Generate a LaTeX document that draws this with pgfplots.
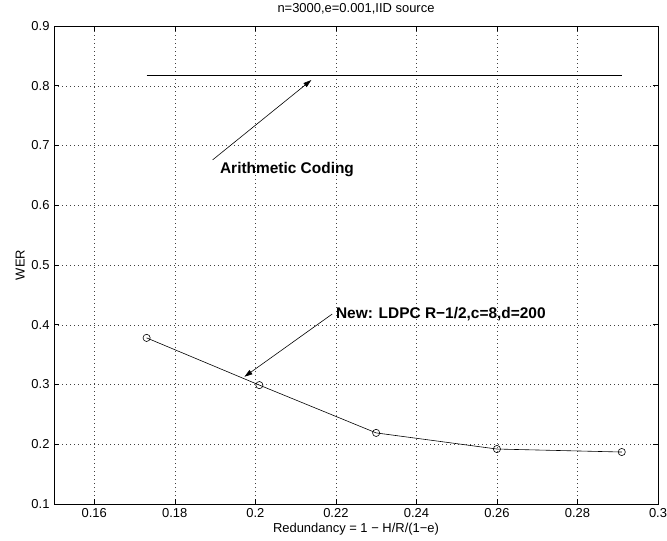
\documentclass[border=0pt]{standalone}
\usepackage{fontspec}
\setmainfont{Liberation Sans}
\usepackage{pgfplots}
\pgfplotsset{compat=1.18}
\usetikzlibrary{arrows.meta}
\begin{document}
\fontsize{13}{15}\selectfont
\begin{tikzpicture}
\begin{axis}[
  at={(0,0)}, anchor=south west,
  scale only axis, width=604bp, height=478bp,
  xmin=0.15, xmax=0.3, ymin=0.1, ymax=0.9,
  xtick={0.16,0.18,0.2,0.22,0.24,0.26,0.28,0.3},
  ytick={0.1,0.2,0.3,0.4,0.5,0.6,0.7,0.8,0.9},
  /pgf/number format/assume math mode=true,
  /pgf/number format/fixed, /pgf/number format/precision=2,
  tick label style={font=\fontsize{13}{15}\selectfont},
  label style={font=\fontsize{13}{15}\selectfont},
  grid=major,
  major grid style={black!75, line width=0.5pt, dash pattern=on 0.7bp off 3.3bp},
  tick align=inside, tick pos=both, major tick length=5bp,
  tick style={black, line width=0.6pt},
  axis line style={black, line width=0.9pt},
  title={n=3000,e=0.001,IID source},
  title style={at={(0.5,1)}, anchor=base, yshift=8bp, font=\fontsize{13}{15}\selectfont},
  xlabel={Redundancy = 1 − H/R/(1−e)},
  ylabel={WER},
  xlabel style={yshift=3bp},
  ylabel style={yshift=-2bp},
]
\addplot[black, line width=0.6pt, mark=o, mark size=3.6bp, mark options={line width=0.6pt}]
  coordinates {(0.173,0.378) (0.201,0.299) (0.230,0.219) (0.260,0.192) (0.291,0.187)};
\addplot[black, line width=0.6pt] coordinates {(0.173,0.818) (0.291,0.818)};
\draw[black, line width=0.6pt, -{Triangle[length=8bp,width=5bp]}] (axis cs:0.1894,0.676) -- (axis cs:0.2139,0.8095);
\node[anchor=west, inner sep=0pt, font=\fontsize{15.5}{17}\selectfont\bfseries] at (axis cs:0.1912,0.659) {Arithmetic Coding};
\draw[black, line width=0.6pt, -{Triangle[length=8bp,width=5bp]}] (axis cs:0.2191,0.418) -- (axis cs:0.1973,0.313);
\node[anchor=west, inner sep=0pt, font=\fontsize{15.5}{17}\selectfont\bfseries] at (axis cs:0.2200,0.418) {New: LDPC R−1/2,c=8,d=200};
\end{axis}
\pgfresetboundingbox
\path[use as bounding box] (-54bp,-37bp) rectangle (613bp,504bp);
\end{tikzpicture}
\end{document}
